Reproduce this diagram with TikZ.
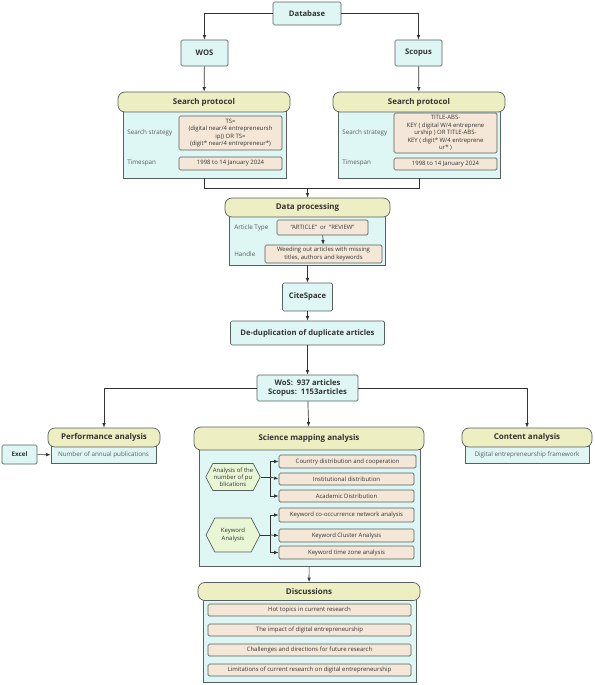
\documentclass[tikz,border=0pt]{standalone}
\usepackage{fontspec}
\setmainfont{Open Sans}
\usetikzlibrary{arrows.meta,shapes.symbols}
\definecolor{cyanfill}{HTML}{DFF7F4}
\definecolor{headfill}{HTML}{EEEEC3}
\definecolor{boxfill}{HTML}{F5E7D7}
\definecolor{hexfill}{HTML}{E9F6D4}
\definecolor{edge}{HTML}{55605F}
\definecolor{ink}{HTML}{333333}

\begin{document}
\begin{tikzpicture}[x=1bp, y=-1bp, line width=0.7pt, draw=ink, >={Latex[length=4.5pt,width=3.5pt]},
    main/.style = {draw=edge, fill=cyanfill, rectangle, rounded corners=1.5pt, inner sep=0pt, align=center, text=ink, font=\fontsize{7.7}{9}\selectfont\bfseries},
    head/.style = {draw=edge, fill=headfill, rectangle, rounded corners=7pt, inner sep=0pt, text=ink, font=\fontsize{8}{9}\selectfont\bfseries},
    body/.style = {draw=edge, fill=cyanfill, rectangle, inner sep=0pt, text=ink!80, font=\fontsize{6.3}{7.2}\selectfont},
    item/.style = {draw=edge, fill=boxfill, rectangle, rounded corners=1.5pt, inner sep=0pt, align=center, text=ink, font=\fontsize{6}{7.4}\selectfont},
    hexa/.style = {draw=edge, fill=hexfill, signal, signal to=west and east, signal pointer angle=125, inner sep=0pt, align=center, text=ink, font=\fontsize{6}{7.2}\selectfont},
    lbl/.style = {inner sep=0pt, anchor=west, text=ink!80, font=\fontsize{6.3}{7.2}\selectfont}]
    \useasboundingbox (0,0) rectangle (595,685);

    \node[main, minimum width=68bp, minimum height=23bp] (db) at (307,13.5) {Database};
    \node[main, minimum width=47bp, minimum height=26bp] (wos) at (204.5,53) {WOS};
    \node[main, minimum width=47bp, minimum height=26bp] (scopus) at (418.5,53) {Scopus};
    \draw[->] (db.west) -| (wos.north);
    \draw[->] (db.east) -| (scopus.north);

    \node[body, minimum width=163bp, minimum height=73bp] (lbody) at (204.5,141.5) {};
    \node[head, minimum width=172bp, minimum height=20bp] (lhead) at (204,102) {Search protocol};
    \node[lbl] (lstrat) at (127,133) {Search strategy};
    \node[lbl] (lspan) at (127,163) {Timespan};
    \node[item, minimum width=103bp, minimum height=34bp] (lterm) at (230.5,133) {TS=\\(digital near/4 entrepreneursh\\ip)) OR TS=\\(digit* near/4 entrepreneur*)};
    \node[item, minimum width=103bp, minimum height=13bp] (ldate) at (230.5,163.5) {1998 to 14 January 2024};
    \draw[->] (wos) -- (lhead);

    \node[body, minimum width=162bp, minimum height=73bp] (rbody) at (419,141.5) {};
    \node[head, minimum width=172bp, minimum height=20bp] (rhead) at (419,102) {Search protocol};
    \node[lbl] (rstrat) at (342,133) {Search strategy};
    \node[lbl] (rspan) at (342,163) {Timespan};
    \node[item, minimum width=103bp, minimum height=40bp] (rterm) at (445.5,133) {TITLE-ABS-\\KEY ( digital W/4 entreprene\\urship ) OR TITLE-ABS-\\KEY ( digit* W/4 entreprene\\ur* )};
    \node[item, minimum width=103bp, minimum height=12bp] (rdate) at (445.5,164) {1998 to 14 January 2024};
    \draw[->] (scopus) -- (rhead);

    \coordinate (join) at (307.5,188);
    \node[body, minimum width=156bp, minimum height=55bp] (dpbody) at (307.5,237.5) {};
    \node[head, minimum width=165bp, minimum height=19bp] (dphead) at (307.5,207.5) {Data processing};
    \node[lbl] (typelbl) at (234,227.5) {Article Type};
    \node[lbl] (handlelbl) at (234,254) {Handle};
    \node[item, minimum width=91bp, minimum height=15bp] (atype) at (322.5,227.5) {“ARTICLE”\ \ or \ “REVIEW”};
    \node[item, minimum width=117bp, minimum height=18bp] (handle) at (323.5,254) {Weeding out articles with missing\\titles, authors and keywords};
    \draw (lbody.south) |- (join);
    \draw (rbody.south) |- (join);
    \draw[->] (join) -- (dphead);
    \draw[->] (atype) -- (handle);

    \node[main, minimum width=50bp, minimum height=28bp] (cite) at (307.5,297) {CiteSpace};
    \node[main, minimum width=154bp, minimum height=24bp] (dedup) at (307.5,333) {De-duplication of duplicate articles};
    \node[main, minimum width=101bp, minimum height=26bp] (total) at (307.5,388) {WoS:\ \ 937 articles\\Scopus:\ \ 1153articles};
    \draw[->] (dpbody) -- (cite);
    \draw[->] (cite) -- (dedup);
    \draw[->] (dedup) -- (total);

    \node[body, minimum width=105bp, minimum height=17bp] (perfbody) at (103.5,455) {Number of annual publications};
    \node[head, minimum width=112bp, minimum height=19bp] (perfhead) at (104,437.5) {Performance analysis};
    \node[main, minimum width=35bp, minimum height=19bp, font=\fontsize{6.3}{7}\selectfont\bfseries] (excel) at (19.5,454.5) {Excel};
    \draw[->] (total.west) -| (perfhead.north);
    \draw[->] (excel) -- (perfbody);

    \node[body, minimum width=124bp, minimum height=17bp] (contbody) at (527,455) {Digital entrepreneurship framework};
    \node[head, minimum width=130bp, minimum height=19bp] (conthead) at (527,437.5) {Content analysis};
    \draw[->] (total.east) -| (conthead.north);

    \node[body, minimum width=221bp, minimum height=126bp] (scibody) at (309.5,503) {};
    \node[head, minimum width=230bp, minimum height=23bp] (scihead) at (309,438.5) {Science mapping analysis};
    \draw[->] (total) -- (scihead);
    \node[hexa, minimum width=54bp, minimum height=27bp] (pubhex) at (233,477) {Analysis of the\\number of pu\\blications};
    \node[hexa, minimum width=54bp, minimum height=34bp] (keyhex) at (233,535) {Keyword\\Analysis};
    \node[item, minimum width=137bp, minimum height=13bp] (country) at (347.5,461.5) {Country distribution and cooperation};
    \node[item, minimum width=135bp, minimum height=12bp] (inst) at (346.5,479) {Institutional distribution};
    \node[item, minimum width=135bp, minimum height=12bp] (acad) at (346.5,496) {Academic Distribution};
    \node[item, minimum width=135bp, minimum height=14bp] (cooc) at (346.5,515) {Keyword co-occurrence network analysis};
    \node[item, minimum width=135bp, minimum height=13bp] (cluster) at (346.5,535.5) {Keyword Cluster Analysis};
    \node[item, minimum width=135bp, minimum height=13bp] (zone) at (346.5,552.5) {Keyword time zone analysis};
    \coordinate (pubfork) at (270,477);
    \coordinate (keyfork) at (270,535);
    \draw (pubhex.east) -- (pubfork);
    \draw[->] (pubfork) |- (country.west);
    \draw[->] (pubfork) -- (inst.west);
    \draw[->] (pubfork) |- (acad.west);
    \draw (keyhex.east) -- (keyfork);
    \draw[->] (keyfork) |- (cooc.west);
    \draw[->] (keyfork) -- (cluster.west);
    \draw[->] (keyfork) |- (zone.west);

    \node[body, minimum width=213bp, minimum height=90bp] (discbody) at (309.5,637) {};
    \node[head, minimum width=222bp, minimum height=18bp] (dischead) at (309,591.5) {Discussions};
    \draw[->] (scibody) -- (dischead);
    \node[item, minimum width=203bp, minimum height=12bp] (hot) at (309.5,610) {Hot topics in current research};
    \node[item, minimum width=203bp, minimum height=12bp] (impact) at (309.5,630) {The impact of digital entrepreneurship};
    \node[item, minimum width=203bp, minimum height=12bp] (future) at (309.5,650) {Challenges and directions for future research};
    \node[item, minimum width=203bp, minimum height=12bp] (limits) at (309.5,670) {Limitations of current research on digital entrepreneurship};
\end{tikzpicture}
\end{document}
